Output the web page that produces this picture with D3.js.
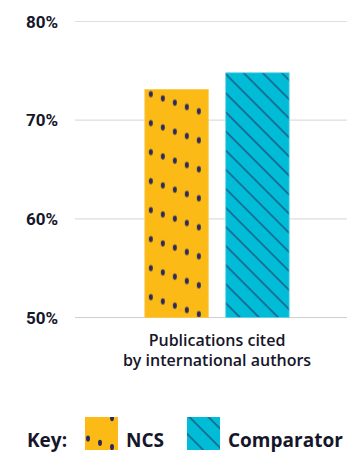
<!DOCTYPE html>
<html>
<head>
<meta charset="utf-8">
<script src="https://cdn.jsdelivr.net/npm/d3@7"></script>
<style>
  html, body { margin: 0; padding: 0; background: #fff; }
  svg { display: block; font-family: "Open Sans", "Noto Sans", sans-serif; }
</style>
</head>
<body>
<svg id="chart"></svg>
<script>
// Data
const categories = ['Publications cited|by international authors'];
const seriesNames = ['NCS', 'Comparator'];
const ncsValues = [73.1];
const comparatorValues = [74.8];
const yTicks = [50, 60, 70, 80];

const width = 360, height = 454;
const svg = d3.select('#chart').attr('width', width).attr('height', height);

const ink = '#16162a';
const navy = '#2a2a5e';
const colors = { NCS: '#fbba16', Comparator: '#00bcd6' };

// Scales
const y = d3.scaleLinear().domain([50, 80]).range([317.5, 21.5]);
const x0 = d3.scaleBand().domain(categories).range([75, 359]).paddingInner(0).paddingOuter(0.484);
const x1 = d3.scaleBand().domain(seriesNames).range([0, x0.bandwidth()]).paddingInner(0.216).paddingOuter(0);

// Patterns
const defs = svg.append('defs');

function dotPattern(id, originX, originY) {
    const p = defs.append('pattern')
        .attr('id', id)
        .attr('patternUnits', 'userSpaceOnUse')
        .attr('x', originX).attr('y', originY)
        .attr('width', 60).attr('height', 29);
    p.append('rect').attr('width', 60).attr('height', 29).attr('fill', colors.NCS);
    // diagonal run of five dots, also repeat the ones crossing the tile edge
    d3.range(5).forEach(i => {
        const cx = 6 + i * 12, cy = 4.5 + i * 4.3;
        [cy, cy - 29].forEach(yy => {
            p.append('ellipse').attr('cx', cx).attr('cy', yy)
                .attr('rx', 2).attr('ry', 3.1).attr('fill', navy);
        });
    });
}

function hatchPattern(id, originX, originY) {
    const p = defs.append('pattern')
        .attr('id', id)
        .attr('patternUnits', 'userSpaceOnUse')
        .attr('x', originX).attr('y', originY)
        .attr('width', 13.5).attr('height', 13.5)
        .attr('patternTransform', 'rotate(-45)');
    p.append('rect').attr('width', 13.5).attr('height', 13.5).attr('fill', colors.Comparator);
    p.append('line').attr('x1', 3).attr('y1', 0).attr('x2', 3).attr('y2', 13.5)
        .attr('stroke', navy).attr('stroke-width', 1);
}

// Gridlines
svg.append('g')
    .selectAll('line')
    .data(yTicks)
    .enter()
    .append('line')
    .attr('x1', 75).attr('x2', 347)
    .attr('y1', d => y(d)).attr('y2', d => y(d))
    .attr('stroke', d => d === 50 ? '#cfcfcf' : '#dedede')
    .attr('stroke-width', 1.2);

// Y labels
svg.append('g')
    .selectAll('text')
    .data(yTicks)
    .enter()
    .append('text')
    .attr('x', 58)
    .attr('y', d => y(d) + 6)
    .attr('text-anchor', 'end')
    .attr('font-family', 'Roboto, sans-serif')
    .attr('font-size', '17px')
    .attr('font-weight', 700)
    .attr('fill', ink)
    .text(d => d + '%');

// Bars
const rows = categories.map((c, i) => ({
    category: c,
    values: [
        { key: 'NCS', value: ncsValues[i] },
        { key: 'Comparator', value: comparatorValues[i] }
    ]
}));

rows.forEach((row, i) => {
    row.values.forEach(d => {
        const bx = x0(row.category) + x1(d.key);
        const by = y(d.value);
        const pid = `pat-${d.key}-${i}`;
        if (d.key === 'NCS') dotPattern(pid, bx, by);
        else hatchPattern(pid, bx, by);
        svg.append('rect')
            .attr('x', bx)
            .attr('y', by)
            .attr('width', x1.bandwidth())
            .attr('height', y(50) - by)
            .attr('fill', `url(#${pid})`)
            .attr('stroke', d.key === 'NCS' ? '#fcc84a' : '#5dd3e4')
            .attr('stroke-width', 0.8);
    });
});

// Category label
const catG = svg.append('g');
categories.forEach(c => {
    const t = catG.append('text')
        .attr('x', x0(c) + x0.bandwidth() / 2)
        .attr('y', 346)
        .attr('text-anchor', 'middle')
        .attr('font-size', '16px')
        .attr('font-weight', 600)
        .attr('fill', ink);
    c.split('|').forEach((line, k) => {
        t.append('tspan')
            .attr('x', x0(c) + x0.bandwidth() / 2)
            .attr('dy', k === 0 ? 0 : 20)
            .text(line);
    });
});

// Legend
const legend = svg.append('g');
legend.append('text')
    .attr('x', 27).attr('y', 447)
    .attr('font-size', '19px').attr('font-weight', 700).attr('fill', ink)
    .text('Key:');

const legendItems = [
    { key: 'NCS', sx: 85, tx: 126 },
    { key: 'Comparator', sx: 187, tx: 228 }
];
legendItems.forEach(item => {
    const pid = `leg-${item.key}`;
    if (item.key === 'NCS') dotPattern(pid, item.sx - 3, 418 + 16);
    else hatchPattern(pid, item.sx, 418);
    legend.append('rect')
        .attr('x', item.sx).attr('y', 417)
        .attr('width', 33).attr('height', 33)
        .attr('fill', `url(#${pid})`);
    legend.append('text')
        .attr('x', item.tx).attr('y', 447)
        .attr('font-size', '19px').attr('font-weight', 700).attr('fill', ink)
        .text(item.key);
});
</script>
</body>
</html>
